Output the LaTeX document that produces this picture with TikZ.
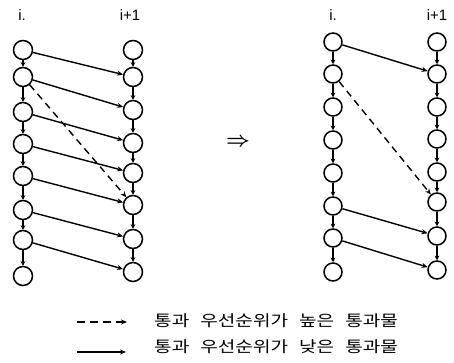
\documentclass[tikz,border=0pt]{standalone}
\usepackage{fontspec}
\newfontfamily\kofont{Noto Sans CJK KR}
\newfontfamily\lblfont{Liberation Sans}
\newcommand\kowordsp{\spaceskip=9pt\relax}
\usetikzlibrary{arrows.meta}
\tikzset{
  cnode/.style={circle,draw,line width=1.5pt,minimum size=19pt,inner sep=0pt},
  cnodeb/.style={circle,draw,line width=1.5pt,minimum size=18pt,inner sep=0pt},
  flow/.style={line width=1.4pt,-{Stealth[length=6pt,width=5pt]}},
  vflow/.style={line width=1.4pt,-{Stealth[length=4.5pt,width=4.5pt]}},
  hflow/.style={flow,dash pattern=on 7pt off 5pt},
  lbl/.style={font=\lblfont\fontsize{15}{17}\selectfont,inner sep=0pt},
  legtxt/.style={font=\kofont\fontsize{15.5}{17}\selectfont,inner sep=0pt,anchor=west,xscale=1.23,transform shape}
}
\begin{document}
\begin{tikzpicture}[x=1pt,y=-1pt]
\useasboundingbox (0,0) rectangle (454,362);
% left diagram
\node[lbl] (la) at (22,15) {i.};
\node[lbl] (lb) at (130,15) {i+1};
\foreach \k/\y in {1/50,2/77,3/112,4/144,5/176,6/210,7/240,8/276}
  \node[cnode] (L\k) at (23,\y) {};
\foreach \k/\y in {1/50,2/77,3/110,4/143,5/173,6/205,7/239,8/272}
  \node[cnode] (R\k) at (133,\y) {};
\foreach \a/\b in {1/2,2/3,3/4,4/5,5/6,6/7,7/8} {
  \draw[vflow] (L\a) -- (L\b);
  \draw[vflow] (R\a) -- (R\b);
  \draw[flow] (L\a) -- (R\b);
}
\draw[hflow] (L2) -- (R6);
% arrow between
\node[font=\fontsize{22}{24}\selectfont\mathversion{bold},inner sep=0pt] (imp) at (238,142) {$\Rightarrow$};
% right diagram
\node[lbl] (ra) at (333,15) {i.};
\node[lbl] (rb) at (437,15) {i+1};
\foreach \k/\y in {1/42,2/74,3/107,4/140,5/173,6/206,7/238,8/272}
  \node[cnodeb] (P\k) at (333,\y) {};
\foreach \k/\y in {1/42,2/74,3/107,4/139,5/172,6/202,7/236,8/270}
  \node[cnodeb] (Q\k) at (437,\y) {};
\foreach \a/\b in {1/2,2/3,3/4,4/5,5/6,6/7,7/8} {
  \draw[vflow] (P\a) -- (P\b);
  \draw[vflow] (Q\a) -- (Q\b);
}
\draw[flow] (P1) -- (Q2);
\draw[hflow] (P2) -- (Q6);
\draw[flow] (P6) -- (Q7);
\draw[flow] (P7) -- (Q8);
% legend
\coordinate (d1) at (77,322);
\coordinate (d2) at (127,322);
\coordinate (s1) at (77,352);
\coordinate (s2) at (126,352);
\draw[hflow,dash pattern=on 8pt off 5pt] (d1) -- (d2);
\draw[flow] (s1) -- (s2);
\node[legtxt] (t1) at (154,321) {\kowordsp 통과 우선순위가 높은 통과물};
\node[legtxt] (t2) at (154,347) {\kowordsp 통과 우선순위가 낮은 통과물};
\end{tikzpicture}
\end{document}
